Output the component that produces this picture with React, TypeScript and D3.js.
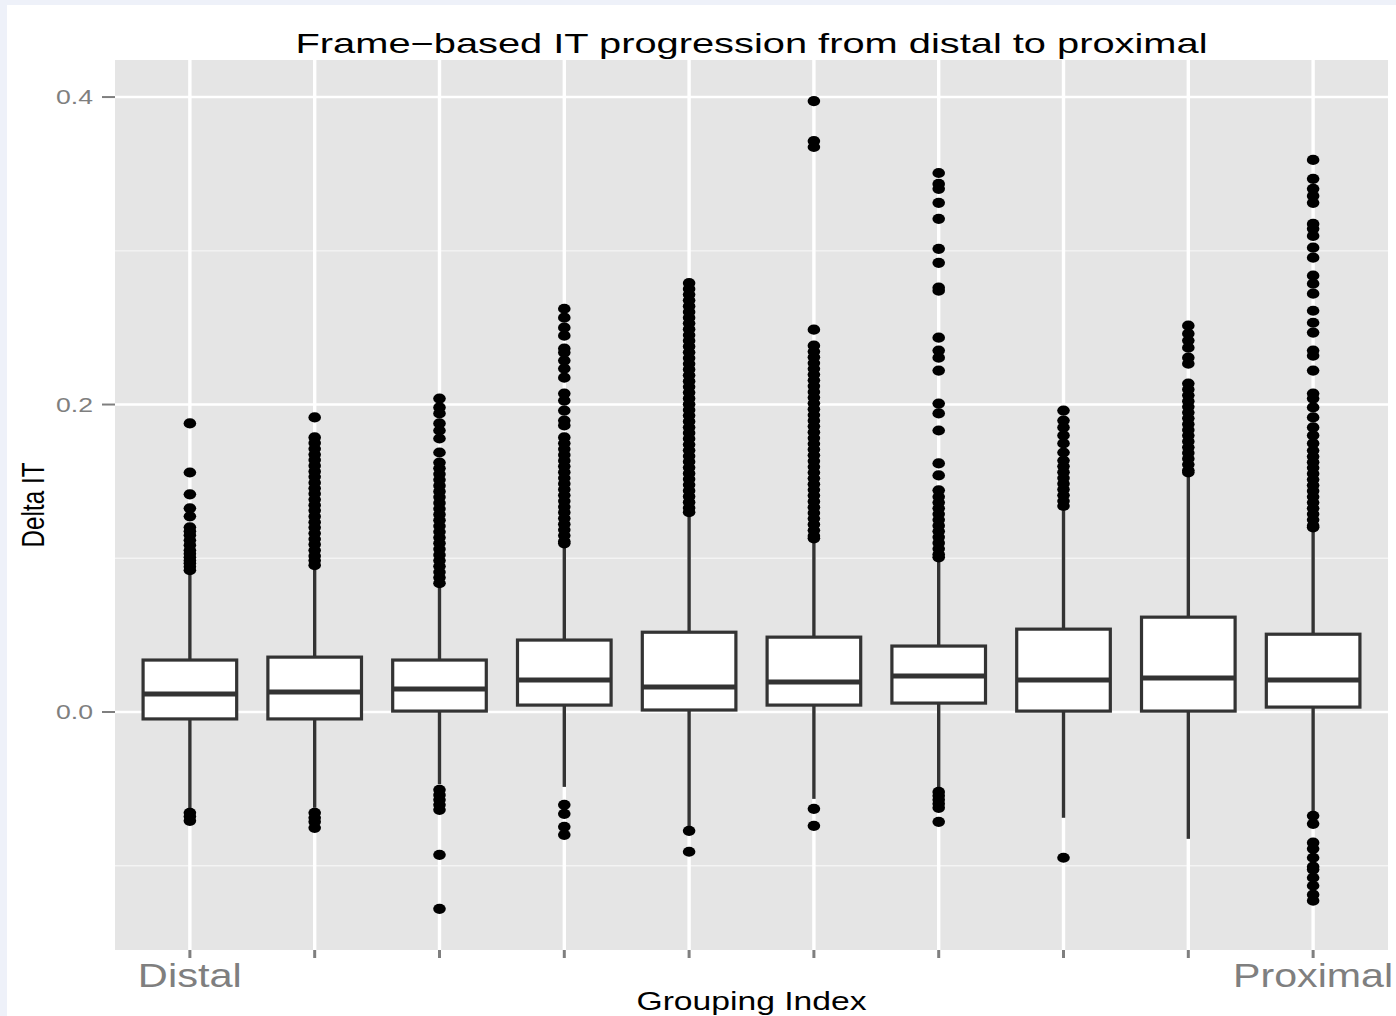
import React from "react";
import * as d3 from "d3";

// Grouping index positions, distal (1) to proximal (10)
const groupIds = ["1", "2", "3", "4", "5", "6", "7", "8", "9", "10"];
const groupTickLabels = ["Distal", "", "", "", "", "", "", "", "", "Proximal"];

// Box statistics for Delta IT per group
const lowerQuartile = [-0.0045, -0.0045, 0.0006, 0.0045, 0.0013, 0.0045, 0.0058, 0.0006, 0.0006, 0.0032];
const medianValue = [0.0117, 0.013, 0.0149, 0.0208, 0.0162, 0.0195, 0.0234, 0.0208, 0.0221, 0.0208];
const upperQuartile = [0.0338, 0.0357, 0.0338, 0.0468, 0.0519, 0.0487, 0.0429, 0.0539, 0.0617, 0.0506];
const whiskerLow = [-0.0636, -0.0623, -0.047, -0.0487, -0.0747, -0.0565, -0.0494, -0.0688, -0.0825, -0.0656];
const whiskerHigh = [0.0903, 0.093, 0.082, 0.108, 0.128, 0.1117, 0.0987, 0.1312, 0.1539, 0.1182];

// Outlying observations per group
const outliers1 = [0.1877, 0.1558, 0.1416, 0.1325, 0.1273, 0.1201, 0.1175, 0.115, 0.1117, 0.1085, 0.1052, 0.103, 0.1006, 0.0985, 0.0968, 0.0945, 0.0922,
  -0.0656, -0.068, -0.0708];
const outliers2 = [0.1916, 0.1786, 0.175, 0.1712, 0.1675, 0.164, 0.1602, 0.1565, 0.153, 0.1492, 0.1455, 0.142, 0.1382, 0.1345, 0.131, 0.1272, 0.1235,
  0.12, 0.1162, 0.1125, 0.109, 0.1052, 0.1015, 0.0985, 0.0955,
  -0.0656, -0.0688, -0.0714, -0.0753];
const outliers3 = [0.2039, 0.1981, 0.1942, 0.1877, 0.1831, 0.1779, 0.1688, 0.1623, 0.1585, 0.1548, 0.151, 0.1472, 0.1435, 0.1398, 0.136, 0.1322,
  0.1285, 0.1248, 0.121, 0.1172, 0.1135, 0.1098, 0.106, 0.1022, 0.0985, 0.0948, 0.091, 0.0875, 0.0838,
  -0.0506, -0.0539, -0.0571, -0.0604, -0.0636, -0.0929, -0.128];
const outliers4 = [0.2623, 0.2565, 0.25, 0.2448, 0.2364, 0.2338, 0.2286, 0.2234, 0.2175, 0.2071, 0.2026, 0.1961, 0.1896, 0.1864,
  0.1786, 0.1748, 0.171, 0.1672, 0.1635, 0.1598, 0.156, 0.1522, 0.1485, 0.1448, 0.141, 0.1372, 0.1335, 0.1298, 0.126, 0.1222,
  0.1185, 0.1148, 0.111, 0.1097,
  -0.0604, -0.0662, -0.0747, -0.0799];
const outliers5 = [0.279, 0.2752, 0.2715, 0.2678, 0.264, 0.2602, 0.2565, 0.2528, 0.249, 0.2452, 0.2415, 0.2378, 0.234, 0.2302, 0.2265, 0.2228,
  0.219, 0.2152, 0.2115, 0.2078, 0.204, 0.2002, 0.1965, 0.1928, 0.189, 0.1852, 0.1815, 0.1778, 0.174, 0.1702, 0.1665, 0.1628,
  0.159, 0.1552, 0.1515, 0.1478, 0.144, 0.1402, 0.1365, 0.1328, 0.13,
  -0.0773, -0.0909];
const outliers6 = [0.3974, 0.3714, 0.3675, 0.2487, 0.2383, 0.2345, 0.2308, 0.227, 0.2232, 0.2195, 0.2158, 0.212, 0.2082, 0.2045, 0.2008, 0.197,
  0.1932, 0.1895, 0.1858, 0.182, 0.1782, 0.1745, 0.1708, 0.167, 0.1632, 0.1595, 0.1558, 0.152, 0.1482, 0.1445, 0.1408, 0.137,
  0.1332, 0.1295, 0.1258, 0.122, 0.1182, 0.1145, 0.113,
  -0.063, -0.074];
const outliers7 = [0.3506, 0.3435, 0.3403, 0.3312, 0.3208, 0.3013, 0.2922, 0.276, 0.274, 0.2435, 0.2351, 0.2305, 0.2221, 0.2006, 0.1942, 0.1831,
  0.1617, 0.1539, 0.1442, 0.14, 0.1362, 0.1325, 0.1288, 0.125, 0.1212, 0.1175, 0.1138, 0.11, 0.1062, 0.1025, 0.1006,
  -0.052, -0.0545, -0.0571, -0.0597, -0.0623, -0.0714];
const outliers8 = [0.1961, 0.1896, 0.1851, 0.1799, 0.1747, 0.1688, 0.1636, 0.1598, 0.156, 0.1522, 0.1485, 0.1448, 0.141, 0.1372, 0.134,
  -0.0948];
const outliers9 = [0.2513, 0.2461, 0.2416, 0.237, 0.2305, 0.2266, 0.2136, 0.2098, 0.206, 0.2022, 0.1985, 0.1948, 0.191, 0.1872, 0.1835, 0.1798,
  0.176, 0.1722, 0.1685, 0.1648, 0.161, 0.1572, 0.1558];
const outliers10 = [0.3591, 0.3468, 0.3403, 0.3357, 0.3312, 0.3175, 0.3143, 0.3097, 0.302, 0.2955, 0.2838, 0.2786, 0.2721, 0.261, 0.2532, 0.2468,
  0.2351, 0.2318, 0.2221, 0.2071, 0.2039, 0.1981, 0.1916, 0.1851, 0.1799, 0.1747, 0.1701, 0.1662, 0.1625, 0.1588, 0.155, 0.1512,
  0.1475, 0.1438, 0.14, 0.1362, 0.1325, 0.1288, 0.125, 0.1212, 0.1201,
  -0.0675, -0.0727, -0.085, -0.089, -0.0948, -0.1006, -0.1025, -0.1078, -0.113, -0.1188, -0.1227];
const outliersByGroup = [outliers1, outliers2, outliers3, outliers4, outliers5, outliers6, outliers7, outliers8, outliers9, outliers10];

const majorTicks = [0.0, 0.2, 0.4];
const minorTicks = [-0.1, 0.1, 0.3];

const W = 1396;
const H = 1016;
const panel = { left: 115, right: 1388, top: 60, bottom: 950 };
const FONT = "'Liberation Sans', Arial, Helvetica, sans-serif";

export default function App() {
  const x = d3
    .scalePoint<string>()
    .domain(groupIds)
    .range([panel.left, panel.right])
    .padding(0.6);
  const y = d3.scaleLinear().domain([-0.1548, 0.4241]).range([panel.bottom, panel.top]);
  const step = x.step();
  const boxW = step * 0.75;
  const fmt = d3.format(".1f");

  return (
    <svg
      width={W}
      height={H}
      style={{ position: "absolute", left: 0, top: 0, display: "block" }}
      fontFamily={FONT}
    >
      <rect x={0} y={0} width={W} height={H} fill="#ffffff" />
      <rect x={0} y={0} width={W} height={5} fill="#eef1f9" />
      <rect x={0} y={0} width={7} height={H} fill="#eef1f9" />

      {/* panel */}
      <rect
        x={panel.left}
        y={panel.top}
        width={panel.right - panel.left}
        height={panel.bottom - panel.top}
        fill="#e5e5e5"
      />
      {minorTicks.map((t) => (
        <line key={"mn" + t} x1={panel.left} x2={panel.right} y1={y(t)} y2={y(t)} stroke="#f4f4f4" strokeWidth={1.3} />
      ))}
      {majorTicks.map((t) => (
        <line key={"mj" + t} x1={panel.left} x2={panel.right} y1={y(t)} y2={y(t)} stroke="#ffffff" strokeWidth={2.6} />
      ))}
      {groupIds.map((g) => (
        <line key={"vg" + g} x1={x(g)} x2={x(g)} y1={panel.top} y2={panel.bottom} stroke="#ffffff" strokeWidth={3.4} />
      ))}

      {/* boxes */}
      {groupIds.map((g, i) => {
        const cx = x(g) as number;
        return (
          <g key={"box" + g}>
            <line x1={cx} x2={cx} y1={y(upperQuartile[i])} y2={y(whiskerHigh[i])} stroke="#333333" strokeWidth={3.4} />
            <line x1={cx} x2={cx} y1={y(lowerQuartile[i])} y2={y(whiskerLow[i])} stroke="#333333" strokeWidth={3.4} />
            <rect
              x={cx - boxW / 2}
              y={y(upperQuartile[i])}
              width={boxW}
              height={y(lowerQuartile[i]) - y(upperQuartile[i])}
              fill="#ffffff"
              stroke="#333333"
              strokeWidth={3.2}
            />
            <line
              x1={cx - boxW / 2}
              x2={cx + boxW / 2}
              y1={y(medianValue[i])}
              y2={y(medianValue[i])}
              stroke="#333333"
              strokeWidth={5}
            />
            {outliersByGroup[i].map((v, k) => (
              <ellipse key={k} cx={cx} cy={y(v)} rx={6.3} ry={5.1} fill="#000000" />
            ))}
          </g>
        );
      })}

      {/* y axis */}
      {majorTicks.map((t) => (
        <g key={"yt" + t}>
          <line x1={102} x2={panel.left} y1={y(t)} y2={y(t)} stroke="#7f7f7f" strokeWidth={2} />
          <text
            x={93}
            y={y(t) + 7}
            textAnchor="end"
            fontSize={20}
            fill="#7f7f7f"
            textLength={37}
            lengthAdjust="spacingAndGlyphs"
          >
            {fmt(t)}
          </text>
        </g>
      ))}
      <g transform="translate(44,505) scale(1.3,1) rotate(-90)">
        <text x={0} y={0} textAnchor="middle" fontSize={24} fill="#000000" textLength={85} lengthAdjust="spacingAndGlyphs">
          Delta IT
        </text>
      </g>

      {/* x axis */}
      {groupIds.map((g, i) => (
        <g key={"xt" + g}>
          <line x1={x(g)} x2={x(g)} y1={panel.bottom} y2={panel.bottom + 8} stroke="#7f7f7f" strokeWidth={3} />
          {groupTickLabels[i] && (
            <text
              x={x(g)}
              y={987}
              textAnchor="middle"
              fontSize={33}
              fill="#7f7f7f"
              textLength={groupTickLabels[i] === "Distal" ? 104 : 160}
              lengthAdjust="spacingAndGlyphs"
            >
              {groupTickLabels[i]}
            </text>
          )}
        </g>
      ))}
      <text
        x={(panel.left + panel.right) / 2}
        y={1010}
        textAnchor="middle"
        fontSize={25}
        fill="#000000"
        textLength={230}
        lengthAdjust="spacingAndGlyphs"
      >
        Grouping Index
      </text>

      {/* title */}
      <text
        x={(panel.left + panel.right) / 2}
        y={53}
        textAnchor="middle"
        fontSize={28}
        fill="#000000"
        textLength={912}
        lengthAdjust="spacingAndGlyphs"
      >
        Frame−based IT progression from distal to proximal
      </text>
    </svg>
  );
}
